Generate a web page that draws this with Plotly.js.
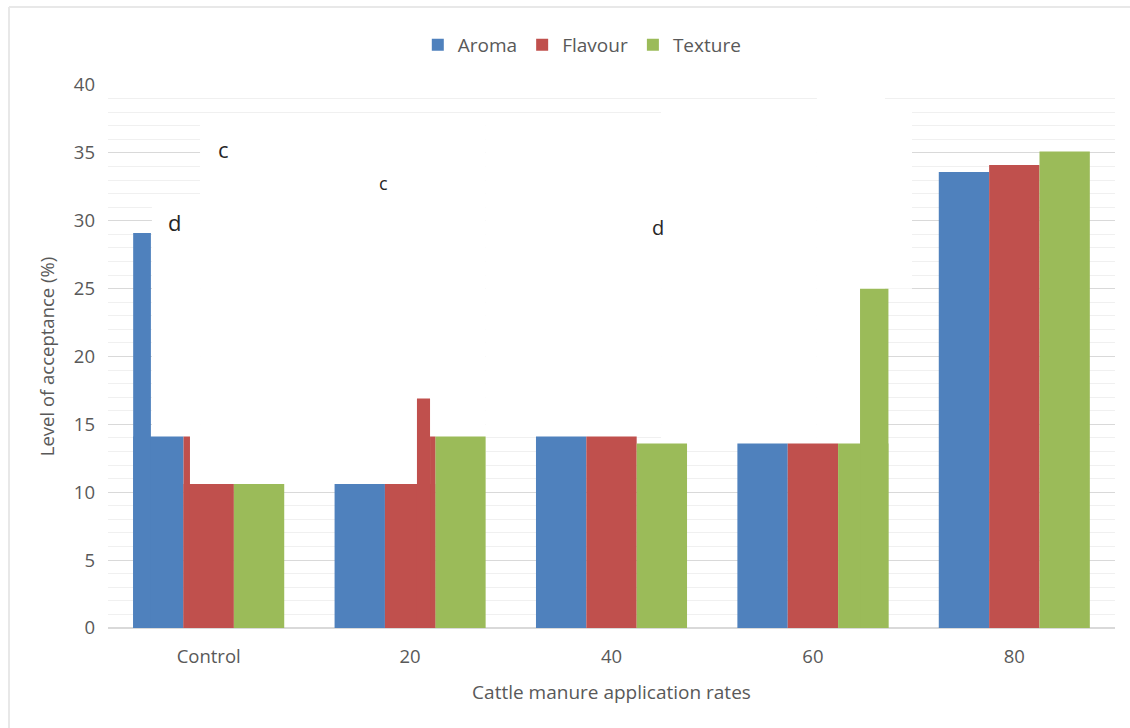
<!DOCTYPE html>
<html>
<head>
<meta charset="utf-8">
<script src="https://cdn.plot.ly/plotly-3.0.1.min.js"></script>
<style>html,body{margin:0;padding:0;background:#fff;}#chart{width:1130px;height:728px;}</style>
</head>
<body>
<div id="chart"></div>
<script>
// ---- data ----
const categories = ['Control', '20', '40', '60', '80'];
const aroma   = [14.1, 10.6, 14.1, 13.6, 33.6];
const flavour = [10.6, 10.6, 14.1, 13.6, 34.1];
const texture = [10.6, 14.1, 13.6, 13.6, 35.1];

// leftover fragments of taller bars visible in the picture
const fragmentCats   = ['Control', 'Control', '20', '20', '60'];
const fragmentValues = [29.1, 14.1, 16.9, 14.1, 25.0];
const fragmentSeries = ['Aroma', 'Flavour', 'Flavour', 'Flavour', 'Texture'];

// stray letters in the plot
const letterTexts  = ['c', 'c', 'd', 'd'];
const letterCats   = ['Control', '20', 'Control', '40'];
const letterValues = [35.3, 32.8, 29.9, 29.5];

// ---- styling ----
const colors = {Aroma: '#4f81bd', Flavour: '#c0504d', Texture: '#9bbb59'};
const barW = 0.25;
const fragOffsets = [-0.375, -0.125, 0.034, 0.099, 0.234];
const fragWidths  = [0.088, 0.032, 0.065, 0.026, 0.141];
const letterShift = [0.075, -0.13, -0.17, 0.23];
const letterSizes = [22, 18, 22, 20];
const txt = '#595959';
const font = 'Open Sans, DejaVu Sans, sans-serif';

function mainTrace(name, vals, off) {
  return {type: 'bar', name: name, x: categories, y: vals,
    offset: off, width: barW, marker: {color: colors[name], line: {width: 0}},
    hoverinfo: 'x+y+name'};
}

const traces = [
  mainTrace('Aroma', aroma, -0.375),
  mainTrace('Flavour', flavour, -0.125),
  mainTrace('Texture', texture, 0.125),
  {type: 'bar', x: fragmentCats, y: fragmentValues, offset: fragOffsets, width: fragWidths,
   marker: {color: fragmentSeries.map(s => colors[s]), line: {width: 0}},
   showlegend: false, hoverinfo: 'skip'}
];

const catIndex = c => categories.indexOf(c);
const annotations = letterTexts.map((t, i) => ({
  x: catIndex(letterCats[i]) + letterShift[i], y: letterValues[i], xref: 'x', yref: 'y',
  text: t, showarrow: false, font: {family: font, size: letterSizes[i], color: '#262626'}
}));

// white patches where the reference has its gridlines wiped out
const wiped = [
  [-0.282, -0.043, 10.6, 31.5],
  [-0.043, 1.376, 10.6, 37.5],
  [1.376, 2.246, 14.1, 37.5],
  [2.246, 3.020, 13.6, 38.5],
  [3.020, 3.358, 13.6, 39.5],
  [3.358, 3.492, 25.0, 38.5]
];
const shapes = wiped.map(r => ({type: 'rect', xref: 'x', yref: 'y', x0: r[0], x1: r[1], y0: r[2], y1: r[3],
  fillcolor: '#ffffff', line: {width: 0}, layer: 'between'}));
// outer frame (left and top edges)
shapes.push({type: 'line', xref: 'paper', yref: 'paper', x0: -0.0983, x1: -0.0983, y0: -0.2, y1: 1.1436,
  line: {color: '#e8e8e8', width: 2}});
shapes.push({type: 'line', xref: 'paper', yref: 'paper', x0: -0.0983, x1: 1.02, y0: 1.1436, y1: 1.1436,
  line: {color: '#e8e8e8', width: 2}});

const layout = {
  width: 1130, height: 728,
  margin: {l: 108, r: 15, t: 85, b: 100},
  paper_bgcolor: '#ffffff', plot_bgcolor: '#ffffff',
  barmode: 'overlay',
  font: {family: font, color: txt},
  showlegend: true,
  legend: {orientation: 'h', x: 0.471, xanchor: 'center', y: 1.074, yanchor: 'middle',
    font: {family: font, size: 19, color: txt}, itemwidth: 30, traceorder: 'normal'},
  xaxis: {type: 'category', range: [-0.5, 4.5], showgrid: false, zeroline: false,
    showline: false, ticks: '', tickfont: {family: font, size: 18.5, color: txt},
    ticklabelstandoff: 15,
    title: {text: 'Cattle manure application rates', font: {family: font, size: 19, color: txt}, standoff: 19}},
  yaxis: {range: [0, 40], dtick: 5, tick0: 0, showgrid: true, gridcolor: '#d9d9d9', gridwidth: 1,
    minor: {dtick: 1, showgrid: true, gridcolor: '#f0f0f0', gridwidth: 1},
    zeroline: true, zerolinecolor: '#d9d9d9', zerolinewidth: 1.5,
    showline: false, ticks: '', tickfont: {family: font, size: 18.5, color: txt},
    ticklabelstandoff: 12,
    title: {text: 'Level of acceptance (%)', font: {family: font, size: 18.5, color: txt}, standoff: 14}},
  annotations: annotations,
  shapes: shapes
};

Plotly.newPlot('chart', traces, layout, {displayModeBar: false, staticPlot: true});
</script>
</body>
</html>
